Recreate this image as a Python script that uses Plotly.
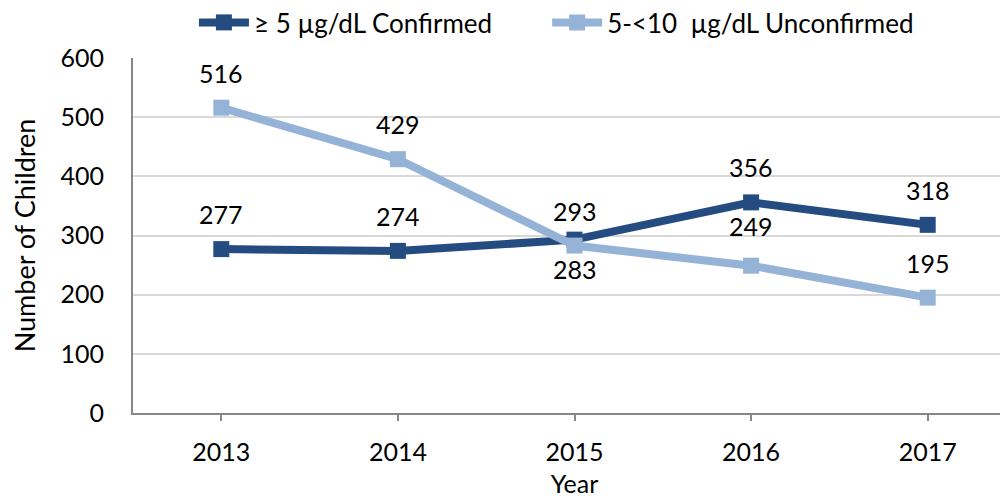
import plotly.graph_objects as go

years = [2013, 2014, 2015, 2016, 2017]
confirmed = [277, 274, 293, 356, 318]
unconfirmed = [516, 429, 283, 249, 195]
series_names = ["≥ 5 µg/dL Confirmed", "5-<10  µg/dL Unconfirmed"]
colors = ["#244C80", "#95B3D7"]
y_ticks = [0, 100, 200, 300, 400, 500, 600]

FONT = "Lato, Calibri, Carlito, sans-serif"

fig = go.Figure()
for name, vals, col, lg in zip(series_names, [confirmed, unconfirmed], colors, ["legend", "legend2"]):
    fig.add_trace(go.Scatter(
        x=years, y=vals, name=name, mode="lines+markers",
        line=dict(color=col, width=8),
        marker=dict(symbol="square", size=16, color=col),
        legend=lg,
    ))

# data labels
label_shift = {("u", 2015): -23, ("c", 2015): 29, ("u", 2016): 40}
for key, vals in (("c", confirmed), ("u", unconfirmed)):
    for x, v in zip(years, vals):
        fig.add_annotation(x=x, y=v, text=str(v), showarrow=False,
                           yshift=label_shift.get((key, x), 35),
                           font=dict(size=25, color="#000000", family=FONT))

legend_style = dict(orientation="h", y=1.1, yanchor="middle", xanchor="left",
                    font=dict(size=26), bgcolor="rgba(0,0,0,0)", itemwidth=50)

fig.update_layout(
    width=1008, height=500,
    margin=dict(l=125, r=0, t=50, b=95, autoexpand=False),
    paper_bgcolor="white", plot_bgcolor="white",
    font=dict(family=FONT, size=25, color="#000000"),
    showlegend=True,
    legend=dict(x=0.069, **legend_style),
    legend2=dict(x=0.469, **legend_style),
    xaxis=dict(
        range=[2012.5, 2017.5], tickvals=years, ticktext=[str(y) for y in years],
        showline=True, linecolor="#878787", linewidth=2,
        ticks="outside", ticklen=6, tickcolor="#878787", tickwidth=2,
        ticklabelstandoff=10,
        showgrid=False, zeroline=False, tickfont=dict(size=25),
        title=dict(text="Year", font=dict(size=25), standoff=10),
    ),
    yaxis=dict(
        range=[0, 600], tickvals=y_ticks,
        showline=True, linecolor="#878787", linewidth=2,
        showgrid=True, gridcolor="#D9D9D9", gridwidth=2,
        zeroline=False, ticks="", tickfont=dict(size=25),
        ticklabelstandoff=22,
        title=dict(text="Number of Children", font=dict(size=27), standoff=22),
    ),
)

fig.write_html("out.html")
